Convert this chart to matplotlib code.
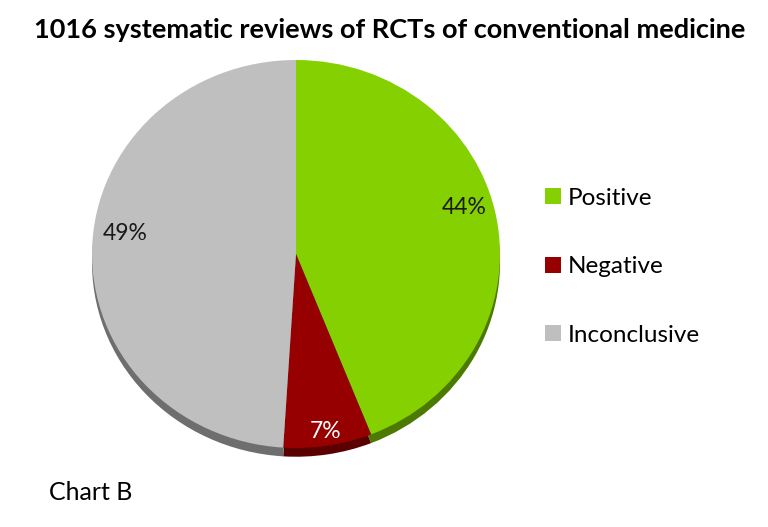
import matplotlib.pyplot as plt
import numpy as np

plt.rcParams['font.family'] = ['Lato', 'DejaVu Sans']

# data
labels = ['Positive', 'Negative', 'Inconclusive']
shares = [44, 7, 49]
colors = ['#84d000', '#960000', '#bfbfbf']
shadow = ['#4c7a00', '#5a0000', '#6e6e6e']

W, H = 768, 527
fig = plt.figure(figsize=(W / 100, H / 100), dpi=100)

# pie sits in an elliptical box (pixels: x 92-500, y 60-448)
ax = fig.add_axes([92 / W, 1 - 448 / H, 408 / W, 388 / H])

# darker copy underneath, shifted down, as the 3D edge
sh, _ = ax.pie(shares, colors=shadow, startangle=90, counterclock=False,
               center=(0, -0.045), frame=True)
for w in sh:
    w.set_clip_on(False)
    w.set_zorder(1)

wedges, _, pct = ax.pie(shares, colors=colors, startangle=90, counterclock=False,
                        autopct='%d%%', pctdistance=0.84, frame=True,
                        textprops=dict(fontsize=16.5, color='#1a1a1a'))
for w in wedges:
    w.set_clip_on(False)
    w.set_zorder(2)
for t in pct:
    t.set_zorder(3)
# labels sit a little higher, as on the tilted 3D pie
for i in (0, 2):
    x, y = pct[i].get_position()
    pct[i].set_position((x, y + 0.08))
# small slice label sits near the rim, in white
x, y = pct[1].get_position()
pct[1].set_position((x * 1.1, y * 1.1))
pct[1].set_color('white')
ax.set_aspect('auto')
ax.set_xlim(-1, 1)
ax.set_ylim(-1, 1)
ax.axis('off')

fig.text(390 / W, 1 - 30 / H, '1016 systematic reviews of RCTs of conventional medicine',
         ha='center', va='center', fontsize=19.5, fontweight='bold')

fig.legend(wedges, labels, loc='upper left', bbox_to_anchor=(523 / W, 1 - 166 / H),
           frameon=False, fontsize=17.5, handlelength=0.65, handleheight=0.65,
           handletextpad=0.3, labelspacing=1.95)

fig.text(49 / W, 1 - 493 / H, 'Chart B', ha='left', va='center', fontsize=18)

fig.savefig('out.png', dpi=100)
